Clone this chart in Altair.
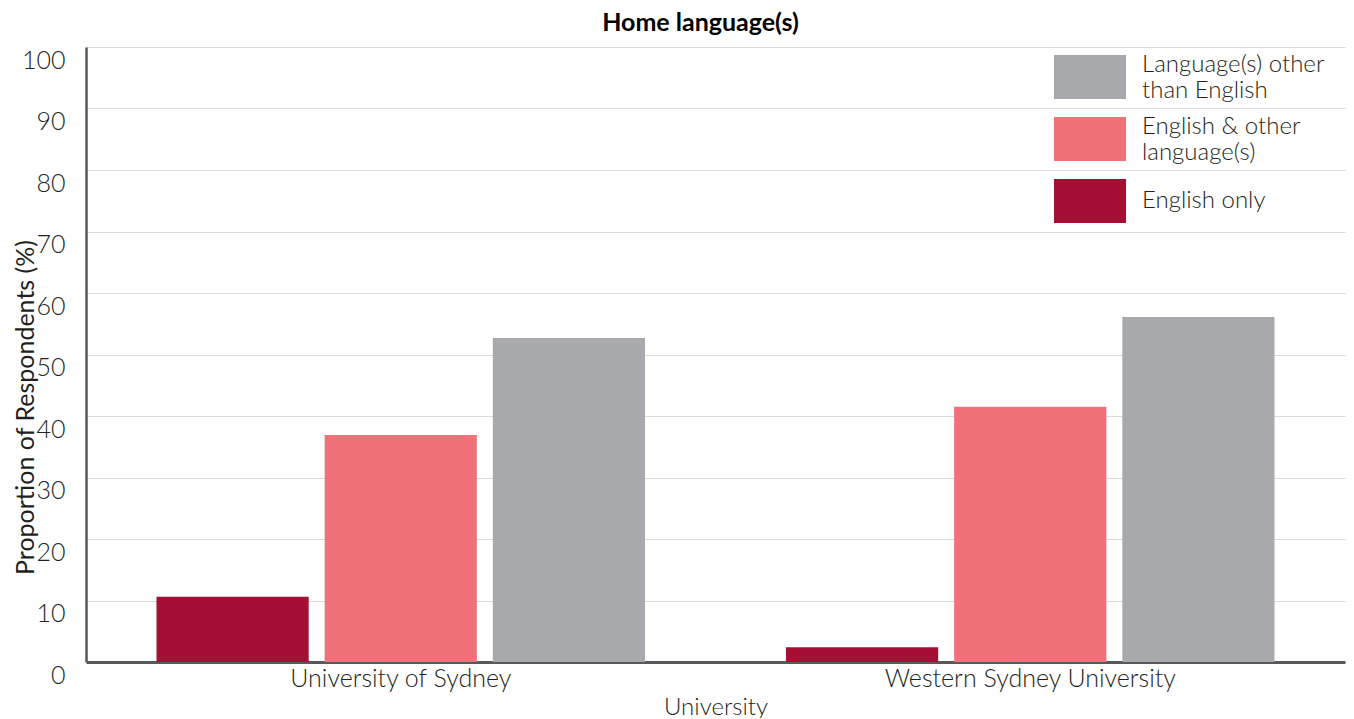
import altair as alt
import pandas as pd

universities = ["University of Sydney", "Western Sydney University"]
languages = ["English only", "English & other language(s)", "Language(s) other than English"]
sydney = [10.6, 36.9, 52.7]
western = [2.4, 41.5, 56.1]
colors = ["#A50F34", "#F17178", "#A8A9AD"]

rows = []
for u, vals in zip(universities, [sydney, western]):
    for l, v in zip(languages, vals):
        rows.append({"University": u, "Language": l, "Value": v})
df = pd.DataFrame(rows)

FONT = "Lato"
TXT = "#231F20"

label_expr = (
    "datum.label == 'Language(s) other than English' ? ['Language(s) other', 'than English'] : "
    "datum.label == 'English & other language(s)' ? ['English & other', 'language(s)'] : datum.label"
)

chart = alt.Chart(df).mark_bar().encode(
    x=alt.X(
        "University:N",
        sort=universities,
        scale=alt.Scale(paddingInner=0.224, paddingOuter=0.112),
        axis=alt.Axis(
            title="University", labelAngle=0, ticks=False, domainColor="#58595B", domainWidth=3,
            labelFontSize=25, labelPadding=4, titleFontSize=24, titlePadding=4,
            labelColor=TXT, titleColor=TXT, grid=False, labelFont=FONT, titleFont=FONT,
            labelFontWeight=300, titleFontWeight=300, labelLimit=500,
        ),
    ),
    xOffset=alt.XOffset("Language:N", sort=languages, scale=alt.Scale(paddingInner=0.095, paddingOuter=0)),
    y=alt.Y(
        "Value:Q",
        scale=alt.Scale(domain=[0, 100]),
        axis=alt.Axis(
            title="Proportion of Respondents (%)", values=list(range(0, 101, 10)), ticks=False,
            domainColor="#58595B", domainWidth=2.5, gridColor="#DADADA", gridWidth=1,
            labelFontSize=25, labelPadding=21, labelBaseline="top", labelOffset=1, labelColor=TXT,
            labelFont=FONT, labelFontWeight=300,
            titleFontSize=25, titleFont=FONT, titleFontWeight="normal", titleColor=TXT,
            titleX=-61, titleY=360, titleAlign="center", titleBaseline="middle", titleAngle=270,
        ),
    ),
    color=alt.Color(
        "Language:N",
        scale=alt.Scale(domain=languages[::-1], range=colors[::-1]),
        legend=alt.Legend(
            title=None, orient="none", legendX=968, legendY=-6,
            symbolType="M-1,-0.611L1,-0.611L1,0.611L-1,0.611Z", symbolSize=5184,
            symbolStrokeWidth=0, symbolOpacity=1,
            labelFontSize=24, labelFont=FONT, labelFontWeight=300, labelColor=TXT,
            labelOffset=16, rowPadding=-12, labelExpr=label_expr, labelLimit=300,
            labelBaseline=alt.ExprRef("datum.value == 'English only' ? 'middle' : 'bottom'"),
        ),
    ),
).properties(
    width=1259,
    height=615,
    title=alt.TitleParams("Home language(s)", fontSize=25, fontWeight="bold", font=FONT,
                          color="#000000", anchor="middle", offset=5, dx=-15),
    autosize=alt.AutoSizeParams(type="none"),
    padding={"left": 78, "top": 39, "right": 1, "bottom": 56},
).configure_view(strokeWidth=0)

chart.save("out.html", embed_options={"renderer": "svg", "actions": False})
